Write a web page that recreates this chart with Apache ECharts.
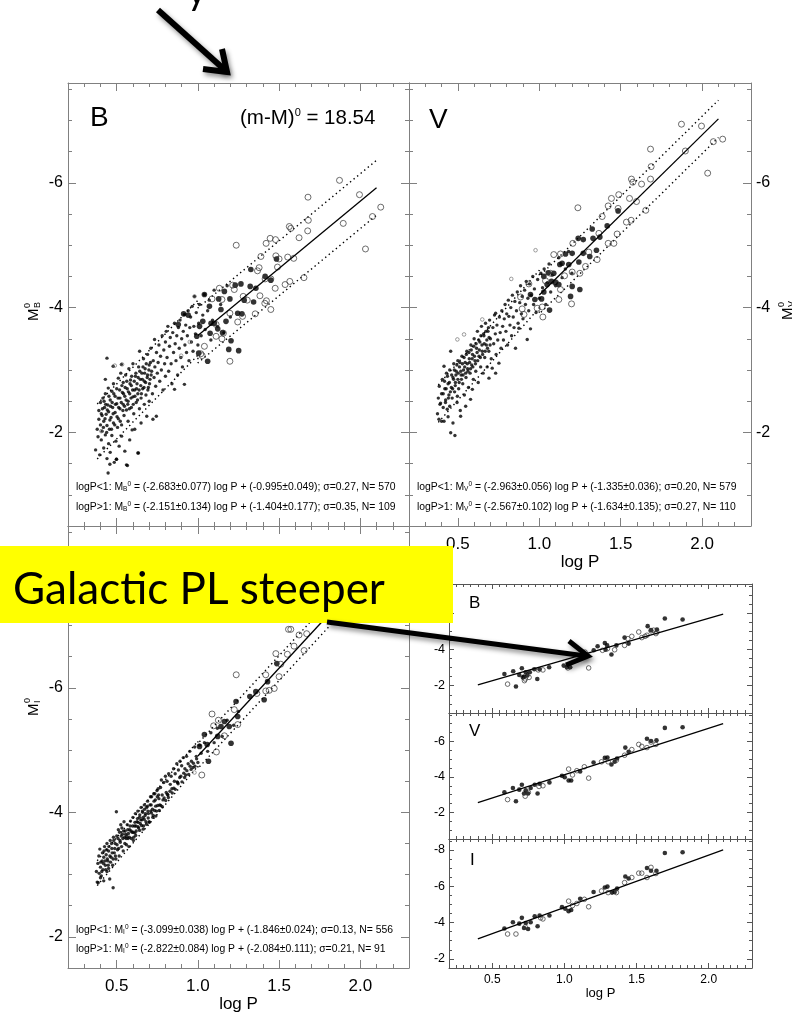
<!DOCTYPE html>
<html><head><meta charset="utf-8">
<script src="https://cdn.jsdelivr.net/npm/echarts@6/dist/echarts.min.js"></script>
<style>html,body{margin:0;padding:0;background:#fff}#c{width:792px;height:1019px}</style>
</head><body><div id="c"></div>
<script>
// ---------------- DATA (logP, M) ----------------
const xTickLabels = [0.5, 1.0, 1.5, 2.0];
const yTicksBV = [-6, -4, -2];
const yTicksI = [-8, -6, -4, -2];

// LMC panel B
const bDots = [
[0.37,-1.72],[0.38,-2.05],[0.385,-1.93],[0.39,-2.21],[0.39,-2.35],[0.395,-1.64],[0.40,-2.12],[0.40,-2.48],[0.405,-1.88],[0.41,-2.27],[0.41,-2.02],[0.415,-2.55],[0.42,-1.75],[0.42,-2.18],[0.425,-2.40],[0.43,-1.96],[0.43,-2.62],[0.435,-2.29],[0.44,-1.58],[0.44,-2.11],[0.445,-2.44],[0.45,-1.82],[0.45,-2.33],[0.447,-1.35],[0.448,-2.71],[0.44,-3.19],[0.43,-2.85],
[0.455,-2.05],[0.46,-2.52],[0.46,-1.68],[0.465,-2.24],[0.47,-2.66],[0.47,-1.95],[0.475,-2.40],[0.478,-3.06],[0.48,-2.15],[0.48,-2.78],[0.485,-1.52],[0.49,-2.32],[0.49,-2.58],[0.495,-1.86],[0.498,-1.57],[0.50,-2.46],[0.50,-2.70],[0.505,-2.08],[0.51,-2.87],[0.51,-2.22],[0.515,-1.78],[0.52,-2.55],[0.52,-2.38],[0.525,-2.95],[0.529,-3.09],[0.53,-2.12],[0.53,-1.94],[0.535,-2.64],[0.54,-2.45],[0.54,-2.80],[0.545,-2.27],[0.55,-1.70],[0.55,-2.58],
[0.555,-2.92],[0.56,-1.48],[0.56,-2.36],[0.565,-2.70],[0.57,-2.18],[0.57,-2.50],[0.575,-3.02],[0.58,-2.62],[0.58,-1.88],[0.585,-2.84],[0.59,-2.40],[0.59,-2.75],[0.595,-2.04],[0.60,-2.57],[0.60,-3.10],[0.605,-2.30],[0.61,-2.68],[0.611,-2.05],[0.615,-2.90],[0.62,-2.48],[0.625,-2.78],[0.63,-1.67],[0.63,-2.62],[0.635,-3.05],[0.64,-2.38],[0.641,-3.30],[0.645,-2.85],[0.65,-2.55],[0.65,-2.15],
[0.655,-2.95],[0.66,-2.70],[0.665,-3.18],[0.67,-2.45],[0.67,-2.82],[0.675,-3.02],[0.68,-2.60],[0.685,-2.26],[0.69,-2.92],[0.69,-3.25],[0.695,-2.72],[0.70,-3.08],[0.70,-2.50],[0.705,-2.85],[0.71,-3.35],[0.715,-2.98],[0.72,-2.62],[0.723,-2.21],[0.725,-3.15],[0.73,-2.88],[0.733,-3.49],[0.735,-3.05],[0.74,-2.74],[0.744,-2.26],[0.745,-3.28],[0.75,-2.95],
[0.755,-3.12],[0.76,-3.40],[0.765,-2.82],[0.77,-3.22],[0.775,-3.00],[0.78,-3.55],[0.785,-2.68],[0.79,-3.32],[0.795,-3.10],[0.80,-2.90],[0.80,-3.45],[0.805,-3.62],[0.81,-3.20],[0.815,-3.70],[0.82,-2.98],[0.825,-3.38],[0.83,-3.52],[0.835,-3.10],[0.84,-2.78],[0.845,-3.60],[0.85,-3.28],
[0.856,-3.75],[0.856,-2.69],[0.86,-3.42],[0.865,-3.15],[0.87,-3.55],[0.875,-2.92],[0.88,-3.68],[0.885,-3.35],[0.89,-3.80],[0.895,-3.20],[0.90,-3.50],[0.905,-3.05],[0.91,-3.62],[0.917,-3.89],[0.917,-2.77],[0.92,-3.40],[0.925,-3.72],[0.93,-3.28],[0.935,-3.55],[0.94,-3.95],[0.945,-3.15],[0.95,-3.68],
[0.955,-3.85],[0.96,-3.45],[0.965,-4.02],[0.97,-3.30],[0.975,-3.70],[0.979,-4.18],[0.985,-3.58],[0.99,-3.92],[1.0,-3.40],[1.005,-3.75],[1.01,-4.05],[1.02,-3.55],[1.03,-3.88],[1.04,-4.21],[1.045,-3.65],[1.06,-3.95],[1.07,-4.12],[1.08,-3.48],[1.09,-3.80],[1.10,-4.28],[1.12,-3.70],[1.14,-4.05],[1.16,-3.60],[1.18,-4.35],[1.20,-3.85],
[0.566,-1.47],[0.499,-1.57],[0.458,-1.49],[0.634,-1.67],
[0.405,-2.30],[0.412,-2.38],[0.418,-2.08],[0.422,-2.50],[0.428,-2.22],[0.432,-2.45],[0.438,-2.00],[0.442,-2.36],[0.452,-2.58],[0.458,-2.20],[0.462,-2.42],[0.468,-2.05],[0.472,-2.48],[0.478,-2.30],[0.482,-2.62],[0.488,-2.12],[0.492,-2.45],[0.502,-2.25],[0.508,-2.55],[0.512,-2.40],[0.518,-2.68],[0.522,-2.18],[0.528,-2.48],[0.532,-2.75],[0.538,-2.35],[0.542,-2.62],[0.548,-2.42],[0.552,-2.72],[0.558,-2.52],[0.562,-2.82],[0.568,-2.45],[0.572,-2.65],[0.578,-2.38],[0.582,-2.78],[0.588,-2.55],[0.592,-2.90],[0.598,-2.68],[0.602,-2.45],[0.608,-2.82],[0.612,-2.58],[0.618,-2.95],[0.622,-2.70],[0.628,-2.52],[0.632,-2.88],[0.638,-2.68],[0.642,-2.98],[0.648,-2.75],[0.652,-2.62],[0.658,-2.85],[0.662,-3.05],[0.668,-2.72],[0.672,-2.95],[0.678,-2.80],[0.682,-3.10],[0.688,-2.88],[0.692,-2.68],[0.698,-3.00],[0.702,-2.78],[0.708,-3.12],[0.712,-2.92]
];
const bFilled = [[1.326,-4.61],[1.414,-4.50],[1.449,-4.44],[1.484,-4.78],[1.265,-4.38],[1.230,-4.36],[1.322,-4.34],[1.357,-4.31],[1.040,-4.21],[1.163,-4.26],[1.128,-4.14],[1.197,-4.14],[1.285,-4.12],[1.343,-4.09],[1.071,-4.02],[1.142,-3.97],[1.245,-3.91],[1.271,-3.90],[1.173,-3.78],[1.101,-3.75],[1.081,-3.75],[1.122,-3.66],[1.075,-3.59],[1.152,-3.60],[1.204,-3.47],[1.251,-3.31],[1.190,-3.33],[1.060,-3.14],[1.005,-3.27],[1.010,-3.70],[1.030,-3.78],[0.993,-3.54],[0.879,-3.73],[0.912,-3.90],[0.94,-3.88]];
const bOpen = [[1.872,-6.04],[1.995,-5.81],[1.678,-5.77],[2.126,-5.61],[2.075,-5.46],[1.895,-5.35],[2.032,-4.94],[1.680,-5.40],[1.676,-5.23],[1.563,-5.30],[1.572,-5.27],[1.623,-5.12],[1.445,-5.11],[1.478,-5.09],[1.420,-5.03],[1.236,-5.00],[1.388,-4.82],[1.480,-4.83],[1.500,-4.78],[1.553,-4.81],[1.590,-4.79],[1.490,-4.65],[1.377,-4.64],[1.367,-4.59],[1.653,-4.48],[1.566,-4.42],[1.537,-4.37],[1.476,-4.31],[1.449,-4.46],[1.414,-4.46],[1.382,-4.19],[1.422,-4.11],[1.412,-4.07],[1.449,-3.97],[1.353,-3.90],[1.245,-3.77],[1.279,-4.18],[1.304,-4.12],[1.224,-4.29],[1.214,-4.36],[1.132,-4.31],[1.087,-4.14],[1.148,-4.13],[1.197,-3.91],[1.157,-3.59],[1.112,-3.54],[1.040,-3.38],[1.026,-3.23],[1.197,-3.14],[1.148,-3.50],[1.275,-3.86],[1.112,-3.73],[1.018,-3.26]];
const bTiny = [[0.979,-4.18],[0.533,-3.09],[0.488,-3.07],[0.405,-2.02],[0.897,-3.23],[0.95,-3.45]];

// LMC panel V
const vDots = [
[0.375,-2.30],[0.38,-2.55],[0.384,-2.21],[0.386,-2.74],[0.39,-2.45],[0.394,-2.47],[0.40,-2.62],[0.40,-2.18],[0.405,-2.85],[0.41,-2.40],[0.415,-2.18],[0.415,-3.06],[0.42,-2.70],[0.425,-2.52],[0.43,-2.95],[0.435,-2.37],[0.44,-2.78],[0.44,-2.25],[0.445,-2.60],[0.45,-3.00],[0.45,-2.42],[0.456,-3.30],[0.456,-1.995],
[0.46,-2.72],[0.465,-2.55],[0.47,-2.88],[0.47,-2.15],[0.475,-3.10],[0.48,-2.65],[0.482,-1.95],[0.485,-2.80],[0.49,-2.98],[0.495,-2.48],[0.497,-2.58],[0.50,-3.15],[0.50,-2.85],[0.505,-2.70],[0.51,-3.05],[0.515,-2.35],[0.517,-2.26],[0.52,-2.92],[0.525,-3.22],[0.53,-2.78],[0.535,-3.00],[0.54,-2.60],[0.545,-3.12],[0.548,-2.42],[0.55,-2.88],
[0.555,-3.30],[0.56,-3.02],[0.565,-2.72],[0.57,-3.18],[0.575,-2.95],[0.578,-2.53],[0.58,-3.40],[0.585,-3.08],[0.589,-2.69],[0.59,-3.25],[0.595,-2.85],[0.60,-3.50],[0.605,-3.15],[0.61,-2.98],[0.615,-3.35],[0.62,-3.62],[0.625,-2.80],[0.63,-3.22],[0.635,-3.45],[0.64,-3.05],[0.645,-3.70],[0.65,-3.30],
[0.655,-2.95],[0.66,-3.55],[0.665,-3.20],[0.67,-3.75],[0.675,-3.40],[0.68,-3.05],[0.685,-3.62],[0.69,-3.30],[0.691,-2.87],[0.695,-3.80],[0.70,-3.50],[0.705,-3.18],[0.711,-3.03],[0.715,-3.68],[0.72,-3.42],[0.725,-3.88],[0.73,-3.58],[0.732,-2.95],[0.732,-3.91],[0.735,-3.25],[0.74,-3.72],[0.745,-3.48],[0.752,-3.11],
[0.755,-3.85],[0.76,-3.60],[0.765,-3.35],[0.77,-3.95],[0.775,-3.70],[0.78,-3.48],[0.785,-3.82],[0.79,-4.05],[0.795,-3.62],[0.80,-3.90],[0.805,-3.40],[0.81,-4.12],[0.813,-3.86],[0.82,-3.72],[0.825,-4.00],[0.83,-3.55],[0.835,-4.20],[0.84,-3.85],[0.845,-3.68],[0.85,-4.10],
[0.854,-3.35],[0.86,-3.95],[0.865,-4.25],[0.87,-3.75],[0.875,-3.67],[0.88,-4.08],[0.885,-4.35],[0.89,-3.90],[0.895,-4.18],[0.90,-3.82],[0.91,-4.28],[0.915,-4.05],[0.92,-4.42],[0.926,-3.49],[0.93,-4.15],[0.935,-3.95],[0.94,-4.38],[0.946,-3.66],[0.95,-4.20],[0.96,-4.50],[0.965,-4.05],[0.97,-4.30],[0.98,-3.92],[0.99,-4.45],
[1.0,-4.15],[1.01,-4.55],[1.02,-4.32],[1.03,-4.62],[1.04,-4.05],[1.05,-4.40],[1.06,-4.70],[1.07,-4.25],[1.08,-4.52],[1.10,-4.35],[1.12,-4.80],[1.14,-4.48],[1.16,-4.62],[1.18,-4.90],[1.20,-4.55],
[0.41,-2.62],[0.418,-2.82],[0.424,-2.48],[0.428,-2.70],[0.436,-2.90],[0.442,-2.55],[0.448,-2.80],[0.454,-2.65],[0.462,-2.92],[0.468,-2.70],[0.474,-2.85],[0.478,-3.00],[0.484,-2.75],[0.488,-2.92],[0.494,-3.08],[0.502,-2.95],[0.508,-2.80],[0.512,-3.12],[0.518,-2.98],[0.522,-2.85],[0.528,-3.10],[0.532,-2.92],[0.538,-3.20],[0.542,-3.05],[0.548,-2.95],[0.552,-3.25],[0.558,-3.10],[0.562,-2.98],[0.568,-3.28],[0.572,-3.12],[0.578,-3.02],[0.582,-3.32],[0.588,-3.18],[0.592,-3.05],[0.598,-3.38],[0.602,-3.22],[0.608,-3.10],[0.612,-3.42],[0.618,-3.28],[0.622,-3.15],[0.628,-3.48],[0.632,-3.32],[0.638,-3.20],[0.642,-3.55],[0.648,-3.40],[0.652,-3.25],[0.658,-3.58],[0.662,-3.42],[0.668,-3.30],[0.672,-3.62],[0.678,-3.48],[0.682,-3.35],[0.688,-3.68],[0.692,-3.52],[0.698,-3.40]
];
const vFilled = [[1.484,-5.55],[1.417,-5.31],[1.351,-4.92],[1.325,-5.26],[1.239,-5.11],[1.27,-5.09],[1.33,-5.11],[1.372,-5.13],[1.31,-4.82],[1.27,-4.87],[1.202,-4.87],[1.161,-4.86],[1.126,-4.69],[1.14,-4.71],[1.181,-4.69],[1.243,-4.73],[1.089,-4.55],[1.055,-4.56],[1.028,-4.50],[1.048,-4.37],[1.075,-4.42],[1.10,-4.40],[1.12,-4.37],[1.249,-4.29],[1.202,-4.34],[1.192,-4.18],[1.063,-3.96],[1.028,-4.25],[0.973,-4.13],[1.014,-4.14],[0.946,-4.21]];
const vOpen = [[1.873,-6.94],[1.996,-6.91],[1.683,-6.54],[2.069,-6.66],[2.126,-6.70],[1.897,-6.51],[2.034,-6.155],[1.687,-6.26],[1.683,-6.06],[1.566,-6.06],[1.574,-6.01],[1.628,-5.98],[1.554,-5.75],[1.488,-5.81],[1.443,-5.75],[1.423,-5.63],[1.484,-5.59],[1.597,-5.70],[1.654,-5.56],[1.535,-5.37],[1.564,-5.40],[1.478,-5.18],[1.366,-5.19],[1.386,-5.46],[1.237,-5.60],[1.423,-5.03],[1.458,-5.03],[1.355,-4.77],[1.304,-4.89],[1.206,-5.03],[1.130,-4.86],[1.089,-4.85],[1.202,-4.57],[1.249,-4.55],[1.284,-4.66],[1.155,-4.51],[1.069,-4.55],[1.038,-4.43],[1.100,-4.40],[1.130,-4.29],[1.198,-4.06],[1.120,-4.13],[1.018,-4.01],[1.022,-3.85],[0.987,-3.99],[0.895,-3.98],[0.906,-3.89],[0.936,-4.38],[0.885,-4.17]];
const vTiny = [[0.977,-4.92],[0.828,-4.46],[0.65,-3.81],[0.538,-3.57],[0.497,-3.49]];

// LMC panel I
const iDots = [
[0.375,-3.05],[0.38,-2.88],[0.384,-3.18],[0.386,-2.87],[0.39,-3.30],[0.392,-3.02],[0.396,-3.41],[0.40,-3.12],[0.40,-2.95],[0.405,-2.98],[0.41,-3.22],[0.412,-3.35],[0.415,-3.08],[0.42,-3.28],[0.42,-2.90],[0.425,-3.45],[0.43,-3.15],[0.435,-3.32],[0.44,-3.05],[0.44,-3.50],[0.445,-3.22],[0.45,-3.38],[0.45,-3.10],[0.457,-2.93],[0.46,-3.55],[0.465,-3.28],
[0.47,-3.42],[0.475,-3.15],[0.478,-2.79],[0.48,-3.60],[0.485,-3.35],[0.49,-3.50],[0.495,-3.25],[0.498,-4.01],[0.50,-3.62],[0.505,-3.40],[0.51,-3.72],[0.515,-3.30],[0.52,-3.55],[0.525,-3.80],[0.53,-3.45],[0.535,-3.65],[0.54,-3.38],[0.545,-3.85],[0.549,-3.60],[0.55,-3.50],
[0.555,-3.65],[0.56,-3.48],[0.565,-3.80],[0.57,-3.58],[0.575,-3.45],[0.58,-3.72],[0.585,-3.86],[0.59,-3.58],[0.595,-3.68],[0.60,-3.92],[0.605,-3.60],[0.61,-3.78],[0.615,-3.98],[0.62,-3.70],[0.625,-3.85],[0.63,-4.02],[0.635,-3.75],[0.64,-3.92],[0.645,-3.82],[0.65,-4.08],
[0.655,-3.88],[0.66,-4.00],[0.665,-3.78],[0.67,-4.12],[0.675,-3.95],[0.68,-3.85],[0.685,-4.08],[0.69,-4.18],[0.695,-3.98],[0.70,-3.85],[0.705,-4.12],[0.71,-4.02],[0.715,-4.25],[0.72,-4.05],[0.725,-3.95],[0.73,-4.18],[0.735,-4.30],[0.74,-4.10],[0.745,-4.02],[0.75,-4.25],
[0.755,-4.38],[0.76,-4.22],[0.765,-4.12],[0.77,-4.40],[0.775,-4.52],[0.78,-4.28],[0.785,-4.20],[0.79,-4.48],[0.80,-4.58],[0.805,-4.32],[0.81,-4.50],[0.815,-4.28],[0.82,-4.62],[0.83,-4.45],[0.835,-4.58],[0.84,-4.38],[0.85,-4.70],[0.855,-4.50],[0.86,-4.62],[0.87,-4.78],[0.875,-4.48],[0.88,-4.68],[0.89,-4.82],[0.895,-4.58],[0.90,-4.75],
[0.91,-4.88],[0.92,-4.70],[0.925,-4.60],[0.93,-4.90],[0.94,-4.78],[0.95,-4.98],[0.96,-4.82],[0.97,-4.72],[0.98,-5.05],[0.99,-4.90],[1.0,-4.80],[1.01,-5.08],[1.02,-4.95],[1.04,-5.12],[1.06,-4.98],[1.08,-5.28],[1.10,-5.12],[1.12,-5.35],[1.15,-5.22],[1.18,-5.48],[1.22,-5.40],[1.25,-5.62],
[0.402,-3.20],[0.408,-3.05],[0.418,-3.18],[0.422,-3.38],[0.428,-3.22],[0.432,-3.08],[0.438,-3.40],[0.442,-3.25],[0.448,-3.15],[0.452,-3.45],[0.458,-3.30],[0.462,-3.20],[0.468,-3.50],[0.472,-3.35],[0.478,-3.25],[0.482,-3.55],[0.488,-3.42],[0.492,-3.30],[0.502,-3.48],[0.508,-3.58],[0.512,-3.42],[0.518,-3.68],[0.522,-3.52],[0.528,-3.62],[0.532,-3.75],[0.538,-3.58],[0.542,-3.70],[0.552,-3.70],[0.558,-3.58],[0.562,-3.62],[0.568,-3.72],[0.572,-3.66],[0.578,-3.60],[0.582,-3.78],[0.588,-3.70],[0.598,-3.78],[0.602,-3.68],[0.612,-3.84],[0.618,-3.78],[0.628,-3.90],[0.632,-3.84],[0.642,-3.96],[0.648,-3.88],[0.658,-4.02],[0.662,-3.92],[0.672,-4.05],[0.678,-3.98],[0.688,-4.10],[0.692,-4.02],[0.708,-4.25],[0.712,-4.12],[0.728,-4.30],[0.738,-4.20],[0.748,-4.35],[0.758,-4.28],
[0.603,-3.55],[0.617,-3.63],[0.641,-3.71],[0.663,-3.73],[0.683,-3.81],[0.701,-3.84],[0.722,-3.92],[0.741,-3.94],[0.762,-4.03],[0.781,-4.09],[0.802,-4.19],[0.818,-4.24],[0.842,-4.31],[0.861,-4.37],[0.878,-4.46],[0.902,-4.49],[0.918,-4.56],[0.943,-4.61],[0.958,-4.69],[0.982,-4.74],[0.612,-3.67],[0.653,-3.79],[0.694,-3.91],[0.733,-4.03],[0.771,-4.11],[0.812,-4.29],[0.852,-4.39],[0.888,-4.56],[0.932,-4.67],[0.972,-4.79],[0.631,-3.77],[0.669,-3.89],[0.714,-3.99],[0.752,-4.11],[0.792,-4.23],[0.828,-4.34],[0.872,-4.49],[0.913,-4.63],[0.952,-4.74],[0.992,-4.86]
];
const iFilled = [[1.235,-5.78],[1.245,-5.54],[1.193,-5.38],[1.204,-5.11],[1.142,-5.38],[1.04,-5.25],[1.01,-5.06],[1.065,-4.82],[1.057,-5.09],[1.357,-5.94],[1.429,-6.10],[1.486,-6.39],[1.408,-5.81],[1.32,-5.86],[1.163,-5.46],[1.122,-5.22]];
const iOpen = [[1.572,-6.94],[1.558,-6.94],[1.623,-6.85],[1.67,-6.87],[1.48,-6.55],[1.551,-6.54],[1.592,-6.67],[1.654,-6.60],[1.236,-6.21],[1.418,-6.21],[1.50,-6.18],[1.51,-6.38],[1.47,-5.99],[1.439,-5.96],[1.418,-5.95],[1.363,-5.91],[1.087,-5.58],[1.126,-5.48],[1.097,-5.39],[1.245,-5.41],[1.163,-5.23],[1.114,-4.97],[1.024,-4.60],[1.224,-5.65]];
const iTiny = [[0.979,-4.64]];

// PL fit lines (solid: logP>1 relation; dotted: band about the relations)
const bSolid = [[1.0,-3.555],[2.1,-5.921]];
const bUpper = [[0.38,-2.455],[1.0,-4.118],[1.0,-3.995],[2.1,-6.361]];
const bLower = [[0.38,-1.575],[1.0,-3.238],[1.0,-3.115],[2.1,-5.481]];
const vSolid = [[1.0,-4.201],[2.1,-7.025]];
const vUpper = [[0.38,-2.761],[1.0,-4.598],[1.0,-4.501],[2.1,-7.325]];
const vLower = [[0.38,-2.161],[1.0,-3.998],[1.0,-3.901],[2.1,-6.725]];
const iSolid = [[1.0,-4.906],[2.1,-8.010]];
const iUpper = [[0.38,-3.224],[1.0,-5.145],[1.0,-5.106],[2.1,-8.210]];
const iLower = [[0.38,-2.824],[1.0,-4.745],[1.0,-4.706],[2.1,-7.810]];

// Galactic panels
const gbFilled = [[0.584,-2.65],[0.645,-2.80],[0.705,-2.96],[0.687,-2.59],[0.732,-2.74],[0.72,-2.50],[0.743,-2.56],[0.76,-2.74],[0.791,-2.91],[0.812,-2.37],[0.828,-2.91],[0.894,-3.02],[0.664,-1.96],[0.712,-2.46],[1.203,-3.95],[1.23,-4.17],[1.28,-4.35],[1.296,-4.22],[1.285,-3.98],[1.326,-3.72],[1.36,-4.22],[1.417,-4.65],[1.445,-4.32],[1.577,-5.28],[1.60,-5.06],[1.641,-5.09],[1.696,-5.70],[1.819,-5.65],[0.995,-3.11],[1.017,-3.02],[1.04,-3.02]];
const gbOpen = [[0.606,-2.09],[0.728,-2.37],[0.723,-2.28],[0.755,-2.46],[0.819,-2.87],[0.851,-2.87],[1.143,-3.85],[1.168,-2.98],[1.264,-3.95],[1.298,-4.04],[1.348,-3.98],[1.417,-4.22],[1.44,-4.59],[1.467,-4.72],[1.515,-4.96],[1.536,-4.65],[1.559,-4.72],[1.572,-4.78],[1.60,-5.02],[1.618,-5.06],[1.634,-4.87],[1.641,-4.96],[1.024,-2.98]];
const gvFilled = [[0.584,-3.13],[0.643,-3.37],[0.705,-3.56],[0.687,-3.28],[0.72,-3.06],[0.732,-3.24],[0.748,-3.06],[0.766,-3.37],[0.794,-3.56],[0.814,-3.06],[0.828,-3.61],[0.896,-3.69],[0.664,-2.63],[0.983,-4.06],[1.002,-3.98],[1.029,-3.80],[1.047,-3.80],[1.109,-4.30],[1.202,-4.81],[1.28,-5.07],[1.298,-5.09],[1.326,-4.70],[1.348,-4.85],[1.365,-5.04],[1.422,-5.65],[1.445,-5.41],[1.572,-6.15],[1.60,-6.02],[1.638,-6.06],[1.696,-6.76],[1.819,-6.80]];
const gvOpen = [[0.606,-2.72],[0.728,-2.91],[0.75,-3.13],[0.824,-3.46],[0.851,-3.50],[1.029,-4.44],[1.056,-4.11],[1.086,-4.35],[1.138,-4.57],[1.168,-3.93],[1.257,-4.85],[1.303,-4.85],[1.36,-4.94],[1.417,-5.22],[1.467,-5.54],[1.515,-5.83],[1.536,-5.72],[1.572,-5.65],[1.60,-5.96],[1.634,-5.83]];
const giFilled = [[0.584,-3.67],[0.643,-4.02],[0.705,-4.26],[0.687,-3.94],[0.72,-3.70],[0.732,-3.98],[0.748,-3.65],[0.766,-4.02],[0.794,-4.35],[0.814,-3.80],[0.828,-4.39],[0.896,-4.39],[0.983,-4.85],[1.006,-4.76],[1.029,-4.63],[1.047,-4.69],[1.109,-5.31],[1.202,-5.68],[1.28,-5.93],[1.298,-5.98],[1.33,-5.65],[1.348,-5.68],[1.365,-5.87],[1.422,-6.54],[1.445,-6.43],[1.572,-7.00],[1.60,-6.85],[1.638,-6.85],[1.696,-7.83],[1.819,-7.87]];
const giOpen = [[0.606,-3.37],[0.664,-3.37],[0.728,-3.76],[0.835,-4.26],[0.851,-4.20],[1.029,-5.18],[1.056,-4.94],[1.086,-5.05],[1.138,-5.28],[1.168,-4.87],[1.257,-5.74],[1.303,-5.65],[1.36,-5.65],[1.417,-6.20],[1.467,-6.48],[1.515,-6.72],[1.536,-6.72],[1.572,-6.48],[1.60,-7.04],[1.634,-6.70]];
const gbLine = [[0.4,-2.05],[2.1,-5.94]];
const gvLine = [[0.4,-2.55],[2.1,-7.0]];
const giLine = [[0.4,-3.1],[2.1,-8.0]];

// ---------------- LAYOUT ----------------
const FONT = '"Liberation Sans", Arial, Helvetica, sans-serif';
function seq(a, b, s) { const r = []; for (let k = 0; a + k * s <= b + 1e-9; k++) r.push(Math.round((a + k * s) * 1000) / 1000); return r; }
const panels = [
  {grid:{left:68, top:83, width:341, height:443}, yMin:-7.6, yMax:-0.5, yLab:'left', yTicks:yTicksBV, xLab:false, small:false},
  {grid:{left:409, top:83, width:342, height:443}, yMin:-7.6, yMax:-0.5, yLab:'right', yTicks:yTicksBV, xLab:true, small:false},
  {grid:{left:68, top:526, width:341, height:442}, yMin:-8.6, yMax:-1.5, yLab:'left', yTicks:yTicksI, xLab:true, small:false},
  {grid:{left:449, top:584, width:303, height:129}, yMin:-7.6, yMax:-0.5, yLab:'left', yTicks:yTicksBV, xLab:false, small:true},
  {grid:{left:449, top:713, width:303, height:126}, yMin:-7.6, yMax:-0.5, yLab:'left', yTicks:yTicksBV, xLab:false, small:true},
  {grid:{left:449, top:839, width:303, height:129}, yMin:-8.6, yMax:-1.5, yLab:'left', yTicks:yTicksI, xLab:true, small:true}
];
const grids = [], xAxes = [], yAxes = [], series = [];
panels.forEach((p, g) => {
  grids.push(Object.assign({containLabel:false}, p.grid));
  const col = p.small ? '#555' : '#808080';
  const ls = {color: col, width: 1};
  const majL = p.small ? 5 : 8, minL = p.small ? 3 : 4;
  const xMinor = p.small ? seq(0.25, 2.25, 0.05) : seq(0.3, 2.2, 0.1);
  const yMinor = seq(p.yMin + 0.1, p.yMax - 0.1, 0.5).filter(v => Math.abs(v * 2 - Math.round(v * 2)) < 1e-6);
  const fs = p.small ? 12 : 17;
  ['bottom', 'top'].forEach(pos => {
    const lab = pos === 'bottom' && p.xLab;
    xAxes.push({type:'value', gridIndex:g, position:pos, min:0.2, max:2.3,
      axisLine:{show:true, onZero:false, lineStyle:ls},
      axisTick:{show:true, inside:true, length:majL, lineStyle:ls, customValues:xTickLabels},
      axisLabel:{show:lab, customValues:xTickLabels, formatter:v => Number(v).toFixed(1), color:'#000', fontFamily:FONT, fontSize:fs, margin:p.small ? 6 : 10},
      splitLine:{show:false},
      name: lab ? 'log P' : '', nameLocation:'middle', nameGap:p.small ? 18 : 27,
      nameTextStyle:{color:'#000', fontFamily:FONT, fontSize:p.small ? 13 : 17, verticalAlign:'top'}});
    xAxes.push({type:'value', gridIndex:g, position:pos, min:0.2, max:2.3,
      axisLine:{show:false}, axisLabel:{show:false}, splitLine:{show:false},
      axisTick:{show:true, inside:true, length:minL, lineStyle:ls, customValues:xMinor}});
  });
  ['left', 'right'].forEach(pos => {
    const lab = pos === p.yLab;
    yAxes.push({type:'value', gridIndex:g, position:pos, inverse:true, min:p.yMin, max:p.yMax,
      axisLine:{show:true, onZero:false, lineStyle:ls},
      axisTick:{show:true, inside:true, length:majL, lineStyle:ls, customValues:p.yTicks},
      axisLabel:{show:lab, customValues:p.yTicks, formatter:v => String(v), color:'#000', fontFamily:FONT, fontSize:p.small ? 12.5 : 16, margin:p.small ? 4 : 5},
      splitLine:{show:false}});
    yAxes.push({type:'value', gridIndex:g, position:pos, inverse:true, min:p.yMin, max:p.yMax,
      axisLine:{show:false}, axisLabel:{show:false}, splitLine:{show:false},
      axisTick:{show:true, inside:true, length:minL, lineStyle:ls, customValues:yMinor}});
  });
});
function scat(g, data, kind, small) {
  const st = {
    dot:{size:3.4, item:{color:'#000'}},
    fill:{size:small ? 4.6 : 5.6, item:{color:'#000'}},
    open:{size:small ? 4.6 : 6, item:{color:'rgba(0,0,0,0)', borderColor:'#333', borderWidth:0.9}},
    tiny:{size:3.6, item:{color:'rgba(0,0,0,0)', borderColor:'#666', borderWidth:0.8}}
  }[kind];
  series.push({type:'scatter', xAxisIndex:g * 4, yAxisIndex:g * 4, data:data, symbol:'circle',
    symbolSize:st.size, itemStyle:st.item, silent:true, z:kind === 'dot' ? 2 : 3});
}
function line(g, data, dotted, w) {
  series.push({type:'line', xAxisIndex:g * 4, yAxisIndex:g * 4, data:data, showSymbol:false, silent:true, z:dotted ? 1 : 4,
    lineStyle:{color:'#000', width:w || (dotted ? 1.4 : 1.3), type:dotted ? [1.4, 3.2] : 'solid'}});
}
scat(0, bDots, 'dot'); scat(0, bTiny, 'tiny'); scat(0, bFilled, 'fill'); scat(0, bOpen, 'open');
line(0, bSolid, false); line(0, bUpper, true); line(0, bLower, true);
scat(1, vDots, 'dot'); scat(1, vTiny, 'tiny'); scat(1, vFilled, 'fill'); scat(1, vOpen, 'open');
line(1, vSolid, false); line(1, vUpper, true); line(1, vLower, true);
scat(2, iDots, 'dot'); scat(2, iTiny, 'tiny'); scat(2, iFilled, 'fill'); scat(2, iOpen, 'open');
line(2, iSolid, false); line(2, iUpper, true); line(2, iLower, true);
scat(3, gbFilled, 'fill', true); scat(3, gbOpen, 'open', true); line(3, gbLine, false, 1.2);
scat(4, gvFilled, 'fill', true); scat(4, gvOpen, 'open', true); line(4, gvLine, false, 1.2);
scat(5, giFilled, 'fill', true); scat(5, giOpen, 'open', true); line(5, giLine, false, 1.2);

// ---------------- TEXT & ANNOTATIONS ----------------
const eqRich = {
  t:{fontSize:10.4, fontFamily:FONT, color:'#000', lineHeight:12, verticalAlign:'middle'},
  sb:{fontSize:6.5, fontFamily:FONT, color:'#000', lineHeight:12, verticalAlign:'bottom'},
  sp:{fontSize:6.5, fontFamily:FONT, color:'#000', lineHeight:12, verticalAlign:'top'}
};
function eq(x, y, band, body) {
  return {type:'text', z:50, style:{x:x, y:y, textVerticalAlign:'middle', rich:eqRich,
    text:'{t|' + body[0] + ' M}{sb|' + band + '}{sp|0}{t| = ' + body[1] + '}'}};
}
function yName(x, y, band) {
  return {type:'group', x:x, y:y, rotation:Math.PI / 2, z:50, children:[
    {type:'text', style:{x:0, y:0, text:'M', font:'15px ' + FONT, fill:'#000', textVerticalAlign:'middle'}},
    {type:'text', style:{x:13, y:4, text:band, font:'9px ' + FONT, fill:'#000', textVerticalAlign:'middle'}},
    {type:'text', style:{x:13, y:-6, text:'0', font:'9px ' + FONT, fill:'#000', textVerticalAlign:'middle'}}
  ]};
}
const shadow = {shadowBlur:5, shadowColor:'rgba(0,0,0,0.45)', shadowOffsetX:2, shadowOffsetY:3};
const graphic = [
  {type:'text', z:50, style:{x:90, y:118, text:'B', font:'28px ' + FONT, fill:'#000', textVerticalAlign:'middle'}},
  {type:'text', z:50, style:{x:429, y:120, text:'V', font:'28px ' + FONT, fill:'#000', textVerticalAlign:'middle'}},
  {type:'text', z:50, style:{x:240, y:118, textVerticalAlign:'middle',
    text:'{a|(m-M)}{s|0}{a| = 18.54}',
    rich:{a:{fontSize:20.5, fontFamily:FONT, color:'#000', lineHeight:22, verticalAlign:'middle'},
          s:{fontSize:11, fontFamily:FONT, color:'#000', lineHeight:22, verticalAlign:'top'}}}},
  eq(76, 487, 'B', ['logP<1:', '(-2.683±0.077) log P + (-0.995±0.049); σ=0.27, N= 570']),
  eq(76, 507, 'B', ['logP>1:', '(-2.151±0.134) log P + (-1.404±0.177); σ=0.35, N= 109']),
  eq(417, 487, 'V', ['logP<1:', '(-2.963±0.056) log P + (-1.335±0.036); σ=0.20, N= 579']),
  eq(417, 507, 'V', ['logP>1:', '(-2.567±0.102) log P + (-1.634±0.135); σ=0.27, N= 110']),
  eq(76, 930, 'I', ['logP<1:', '(-3.099±0.038) log P + (-1.846±0.024); σ=0.13, N= 556']),
  eq(76, 949, 'I', ['logP>1:', '(-2.822±0.084) log P + (-2.084±0.111); σ=0.21, N= 91']),
  yName(34, 321, 'B'), yName(788, 320, 'V'), yName(34, 716, 'I'),
  {type:'text', z:50, style:{x:469, y:603, text:'B', font:'17px ' + FONT, fill:'#000', textVerticalAlign:'middle'}},
  {type:'text', z:50, style:{x:469, y:731, text:'V', font:'17px ' + FONT, fill:'#000', textVerticalAlign:'middle'}},
  {type:'text', z:50, style:{x:470, y:860, text:'I', font:'17px ' + FONT, fill:'#000', textVerticalAlign:'middle'}},
  // slide annotations
  {type:'text', z:90, style:{x:187, y:-8, text:'y', font:'38px Lato', fill:'#000', textVerticalAlign:'middle'}},
  {type:'polyline', z:100, shape:{points:[[158,10],[226,71]]}, style:Object.assign({stroke:'#000', lineWidth:6, fill:null}, shadow)},
  {type:'polyline', z:100, shape:{points:[[203,69],[227,72],[222,49]]}, style:Object.assign({stroke:'#000', lineWidth:6, fill:null, lineJoin:'miter'}, shadow)},
  {type:'rect', z:100, shape:{x:0, y:546, width:453, height:77}, style:{fill:'#ffff00'}},
  {type:'text', z:101, style:{x:13, y:590, text:'Galactic PL steeper', font:'44px Lato', fill:'#000', textVerticalAlign:'middle'}},
  {type:'polyline', z:102, shape:{points:[[327,622],[586,656]]}, style:Object.assign({stroke:'#000', lineWidth:5, fill:null}, shadow)},
  {type:'polyline', z:102, shape:{points:[[566,665],[588,656],[569,641]]}, style:Object.assign({stroke:'#000', lineWidth:5, fill:null, lineJoin:'miter'}, shadow)}
];

const chart = echarts.init(document.getElementById('c'), null, {renderer:'canvas'});
chart.setOption({animation:false, backgroundColor:'#fff', grid:grids, xAxis:xAxes, yAxis:yAxes, series:series, graphic:graphic});
</script></body></html>
